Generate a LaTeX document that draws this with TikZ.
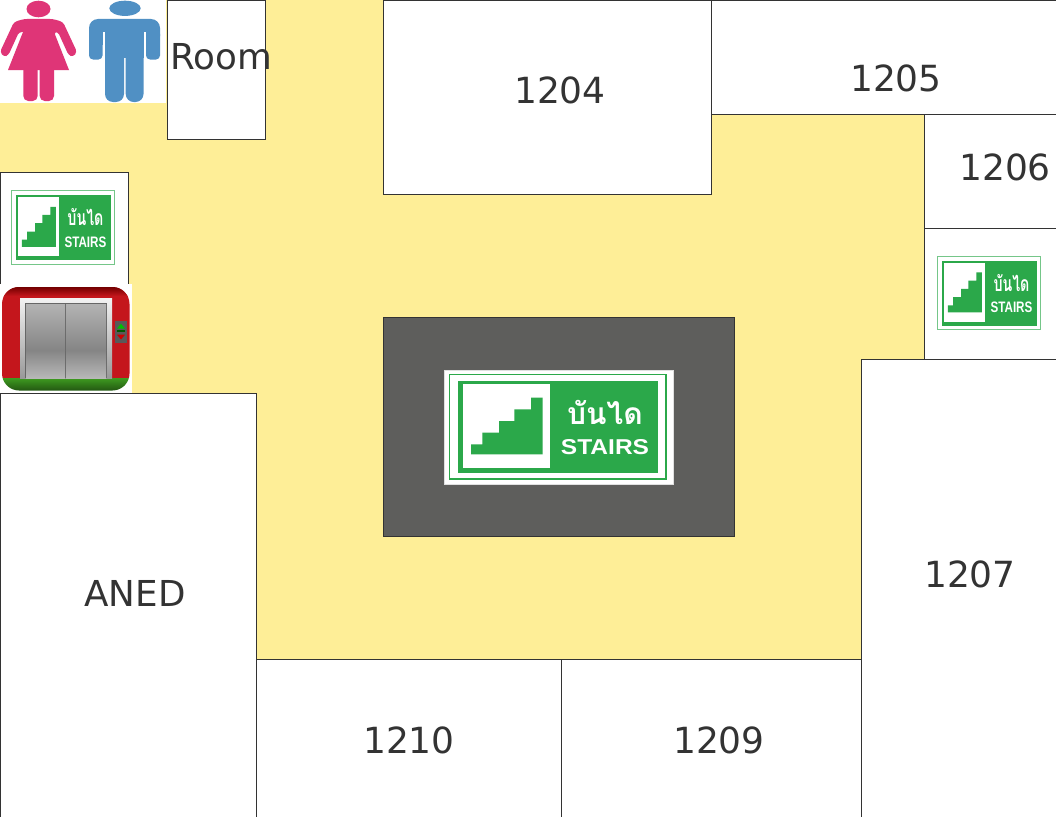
\documentclass[tikz,border=0pt]{standalone}
\usepackage{fontspec}
\setmainfont{DejaVu Sans}
\newfontfamily\thaifont[Script=Thai]{Loma}
\newfontfamily\signfont{Liberation Sans}
\usetikzlibrary{positioning}

\definecolor{corridor}{HTML}{FEEE97}
\definecolor{core}{HTML}{5E5E5C}
\definecolor{signgreen}{HTML}{2BA84A}
\definecolor{lineink}{HTML}{333333}
\definecolor{ladypink}{HTML}{DF3577}
\definecolor{manblue}{HTML}{5090C4}
\definecolor{liftred}{HTML}{C4161C}
\definecolor{liftgreen}{HTML}{3E9B20}

\tikzset{
  room/.style={draw=lineink, fill=white, line width=0.7pt},
  roomlabel/.style={text=lineink, font=\fontsize{36}{36}\selectfont, inner sep=0pt},
  wordlabel/.style={text=lineink, font=\fontsize{35.7}{36}\selectfont, inner sep=0pt},
  signedge/.style={draw=black!12, line width=0.8pt},
  signframe/.style={draw=signgreen, line width=1.8pt},
  smallsign/.style={xscale=.475, yscale=.7065, transform shape,
    signedge/.style={draw=none},
    signframe/.style={draw=signgreen!65!white, line width=1pt}},
  stairsign/.pic={
    \fill[white, signedge] (0,0) rectangle (229,114);
    \path[signframe] (5.5,4.5) rectangle (222,109);
    \fill[signgreen] (14,11) rectangle (214,103);
    \fill[white] (19,14) rectangle (106,98);
    \fill[signgreen] (27,84.3) -- (27,74.3) -- (38.3,74.3) -- (38.3,62.7) -- (55,62.7) -- (55,51)
      -- (70.3,51) -- (70.3,39.3) -- (87,39.3) -- (87,27.7) -- (98.7,27.7) -- (98.7,84.3) -- cycle;
    \node (thai) [text=white, inner sep=0pt, font=\thaifont\bfseries\fontsize{30}{30}\selectfont] at (161,42.5) {บันได};
    \node (word) [text=white, inner sep=0pt, xscale=1.14, transform shape, font=\signfont\bfseries\fontsize{21.5}{21.5}\selectfont] at (161,77.5) {STAIRS};
  },
}

\begin{document}
\begin{tikzpicture}[x=1pt, y=-1pt]
\useasboundingbox (0,0) rectangle (1056,816);
\fill[corridor] (0,0) rectangle (1056,816);

% rooms
\fill[white] (0,0) rectangle (166,103);
\draw[room] (167,0) rectangle (265.5,139.5);
\draw[room] (383,0) rectangle (711.5,194.5);
\draw[room] (711.5,0) rectangle (1059,114.5);
\draw[room] (924.5,114.5) rectangle (1059,228.5);
\draw[room] (924.5,228.5) rectangle (1059,359.5);
\draw[room] (861.5,359.5) rectangle (1059,819);
\draw[room] (561.5,659.5) rectangle (861.5,819);
\draw[room] (256.5,659.5) rectangle (561.5,819);
\draw[room] (0,393.5) rectangle (256.5,819);
\draw[room] (0,172.5) rectangle (128.5,290);
\draw[draw=lineink, fill=core, line width=0.7pt] (383.5,317.5) rectangle (734.5,536.5);

\node (room) [wordlabel] at (221,57) {Room};
\node (r1204) [roomlabel] at (560,90) {1204};
\node (r1205) [roomlabel] at (896,78.5) {1205};
\node (r1206) [roomlabel] at (1005,167) {1206};
\node (r1207) [roomlabel] at (970,574) {1207};
\node (r1209) [roomlabel] at (719,740) {1209};
\node (r1210) [roomlabel] at (409,740) {1210};
\node (aned) [wordlabel] at (135,593) {ANED};

% signs
\pic (signcore) at (444,370) {stairsign};
\pic[smallsign] (signleft) at (9,187.2) {stairsign};
\pic[smallsign] (signright) at (935,252.9) {stairsign};

% lady
\fill[ladypink] (38.5,9) ellipse (12 and 8.3);
\fill[ladypink, rounded corners=3pt] (24,19) -- (53,19) -- (63,22) -- (77,52) -- (73,57) -- (68.5,55) -- (58,32) -- (54,32)
  [sharp corners] -- (69,70) -- (8,70) -- (23,32) [rounded corners=3pt] -- (19,32) -- (8.5,55) -- (4,57) -- (0,52) -- (14,22) -- cycle;
\fill[ladypink, rounded corners=5pt] (23.3,60) rectangle (37.7,101);
\fill[ladypink, rounded corners=5pt] (39.7,60) rectangle (54,101);

% man
\fill[manblue] (125,8.3) ellipse (15.7 and 7.6);
\fill[manblue, rounded corners=9pt] (89,19) rectangle (160,45);
\fill[manblue, rounded corners=4pt] (89,30) rectangle (102.5,59.5);
\fill[manblue, rounded corners=4pt] (146,30) rectangle (160,59.5);
\fill[manblue] (105,25) rectangle (143.5,58);
\fill[manblue, rounded corners=8pt] (105,50) rectangle (124,102);
\fill[manblue, rounded corners=8pt] (125.7,50) rectangle (143.5,102);
\fill[white] (102.5,32) rectangle (105,60);
\fill[white] (143.5,32) rectangle (146,60);

% lift
\fill[white] (0,284) rectangle (132,393);
\begin{scope}
\clip[rounded corners=17pt] (2,287) rectangle (129.5,390.5);
\fill[liftred] (2,287) rectangle (130,378);
\shade[top color=red!45!black, bottom color=liftred] (2,287) rectangle (130,296);
\shade[top color=liftgreen, bottom color=liftgreen!55!black] (2,378) rectangle (130,391);
\end{scope}
\shade[top color=black!5, bottom color=black!40] (20,298) rectangle (112,378);
\fill[black!60] (25,303) rectangle (107,378);
\shade[top color=black!30, bottom color=black!48] (26,304) rectangle (65,350);
\shade[top color=black!48, bottom color=black!28] (26,350) rectangle (65,378);
\shade[top color=black!30, bottom color=black!48] (66,304) rectangle (106,350);
\shade[top color=black!48, bottom color=black!28] (66,350) rectangle (106,378);
\fill[black!65] (115,321) rectangle (127,343);
\fill[green!75!black] (121,323.7) -- (125,328.5) -- (117,328.5) -- cycle;
\fill[green!35!black] (117,329.5) rectangle (125,332);
\fill[red!80!black] (121,339.5) -- (125,334.7) -- (117,334.7) -- cycle;
\end{tikzpicture}
\end{document}
